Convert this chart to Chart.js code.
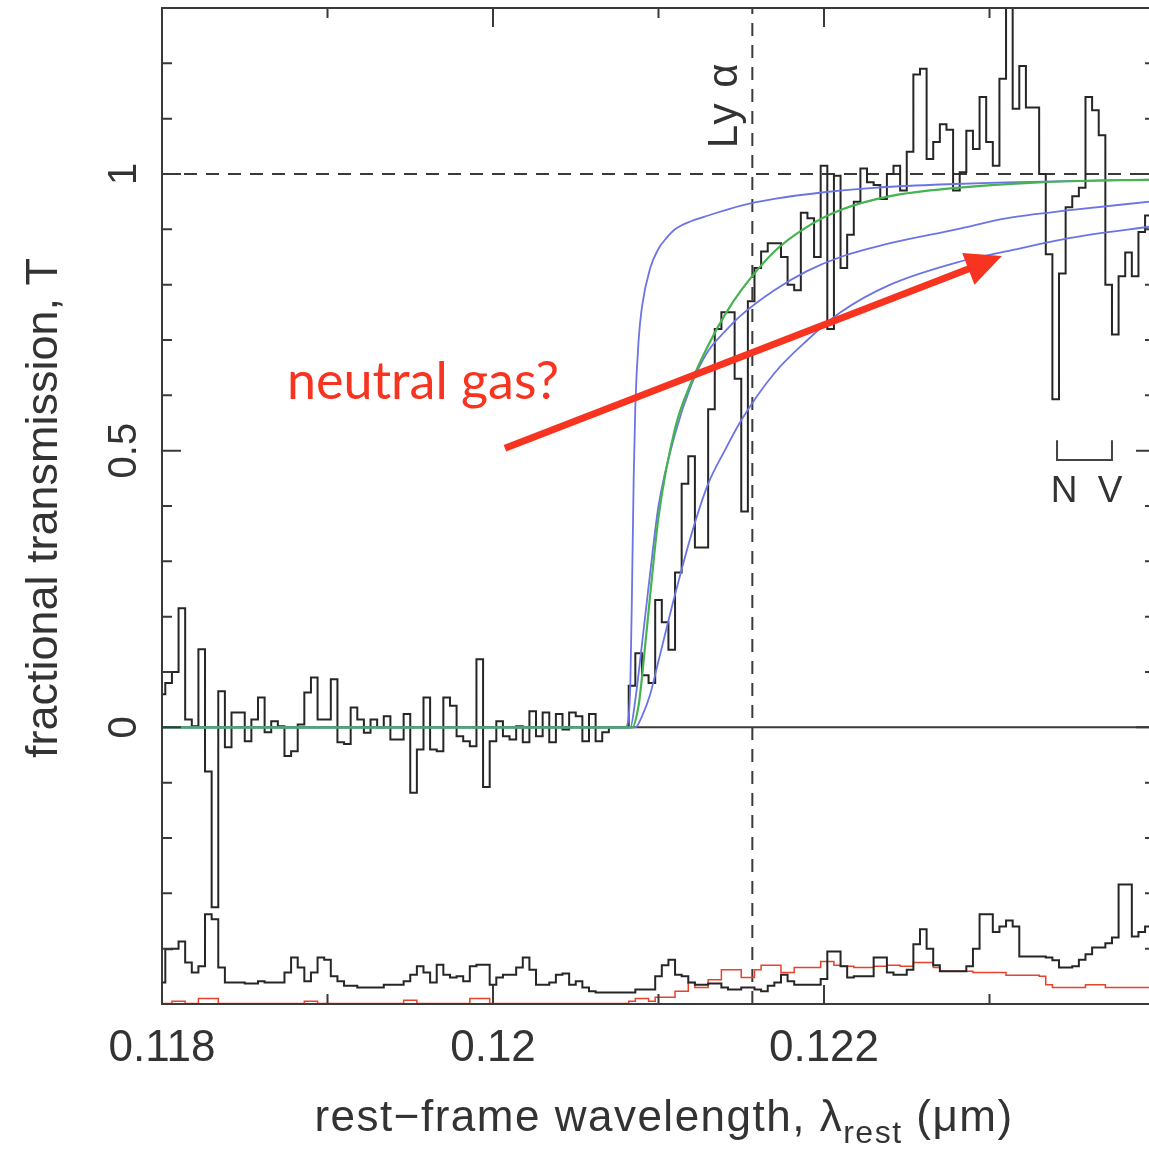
<!DOCTYPE html>
<html><head><meta charset="utf-8">
<script src="https://cdn.jsdelivr.net/npm/chart.js@4.4.0/dist/chart.umd.min.js"></script>
<style>
html,body{margin:0;padding:0;background:#fff;overflow:hidden;width:1149px;height:1150px}
#wrap{position:absolute;left:0;top:0;width:1165px;height:1150px}
</style></head><body><div id="wrap"><canvas id="c" width="1165" height="1150"></canvas></div>
<script>
// ---- spectrum grid (rest-frame wavelength, micron) ----
const binStart = 0.118;
const binWidth = 0.00004;
// fractional transmission per bin
const transmission = [0.06,0.08,0.10,0.215,0.014,0.002,0.141,-0.08,-0.325,0.065,
-0.036,0.027,0.027,-0.025,0.014,0.054,-0.009,0.011,0.002,-0.052,
-0.043,0.005,0.063,0.09,0.014,0.014,0.087,-0.027,-0.03,0.036,
0.014,-0.01,0.014,0.0,0.02,-0.022,-0.022,0.024,-0.118,-0.04,
0.054,-0.04,-0.043,0.054,0.039,-0.016,-0.025,-0.034,0.123,-0.108,
-0.025,0.011,-0.016,-0.022,0.002,-0.027,0.029,-0.016,0.027,-0.027,
0.024,-0.004,0.027,0.02,-0.025,0.024,-0.025,-0.009,0.0,0.0,
0.0,0.075,0.134,0.094,0.08,0.23,0.19,0.14,0.28,0.44,
0.49,0.325,0.325,0.575,0.72,0.75,0.75,0.63,0.39,0.77,
0.83,0.86,0.875,0.875,0.85,0.80,0.79,0.93,0.92,0.85,
1.015,0.72,0.997,0.83,0.89,0.95,1.01,0.985,0.98,0.955,
1.0,1.015,0.97,1.04,1.18,1.19,1.027,1.058,1.09,1.08,
0.97,1.003,1.078,1.045,1.139,1.058,1.015,1.172,1.35,1.118,
1.195,1.12,1.12,1.0,0.855,0.593,0.82,0.94,0.96,0.975,
1.139,1.115,1.07,0.80,0.71,0.815,0.858,0.815,0.895,0.925,
0.93];
// noise spectrum (black) plotted in the bottom strip, in T units
const noiseBlack = [-0.461,-0.401,-0.40,-0.387,-0.425,-0.443,-0.432,-0.338,-0.347,-0.434,
-0.461,-0.461,-0.461,-0.463,-0.463,-0.459,-0.461,-0.461,-0.461,-0.443,
-0.416,-0.434,-0.459,-0.443,-0.416,-0.42,-0.45,-0.459,-0.467,-0.467,
-0.47,-0.47,-0.47,-0.47,-0.465,-0.465,-0.465,-0.459,-0.447,-0.432,
-0.443,-0.461,-0.429,-0.447,-0.452,-0.45,-0.459,-0.432,-0.429,-0.429,
-0.465,-0.452,-0.447,-0.447,-0.434,-0.416,-0.438,-0.465,-0.465,-0.461,
-0.447,-0.445,-0.465,-0.459,-0.47,-0.477,-0.479,-0.479,-0.479,-0.479,
-0.479,-0.479,-0.474,-0.474,-0.474,-0.45,-0.43,-0.42,-0.447,-0.45,
-0.461,-0.465,-0.465,-0.463,-0.463,-0.47,-0.474,-0.474,-0.47,-0.47,
-0.474,-0.477,-0.467,-0.461,-0.447,-0.459,-0.465,-0.465,-0.465,-0.465,
-0.455,-0.405,-0.405,-0.432,-0.452,-0.45,-0.45,-0.45,-0.416,-0.416,
-0.443,-0.447,-0.447,-0.438,-0.392,-0.365,-0.40,-0.43,-0.441,-0.441,
-0.441,-0.441,-0.432,-0.40,-0.338,-0.338,-0.37,-0.36,-0.349,-0.36,
-0.414,-0.414,-0.414,-0.414,-0.416,-0.421,-0.434,-0.434,-0.432,-0.42,
-0.41,-0.398,-0.398,-0.39,-0.38,-0.284,-0.284,-0.378,-0.37,-0.36,
-0.36];
// second noise spectrum (red)
const noiseRed = [-0.499,-0.499,-0.495,-0.495,-0.499,-0.499,-0.49,-0.49,-0.49,-0.499,
-0.499,-0.499,-0.499,-0.499,-0.499,-0.499,-0.499,-0.499,-0.499,-0.499,
-0.499,-0.499,-0.495,-0.495,-0.499,-0.499,-0.499,-0.499,-0.499,-0.499,
-0.499,-0.499,-0.499,-0.499,-0.499,-0.499,-0.499,-0.493,-0.493,-0.499,
-0.499,-0.499,-0.499,-0.499,-0.499,-0.499,-0.499,-0.49,-0.49,-0.49,
-0.499,-0.499,-0.499,-0.499,-0.499,-0.499,-0.499,-0.499,-0.499,-0.499,
-0.499,-0.499,-0.499,-0.499,-0.499,-0.499,-0.499,-0.499,-0.499,-0.499,
-0.499,-0.495,-0.49,-0.49,-0.495,-0.488,-0.488,-0.488,-0.477,-0.477,
-0.461,-0.47,-0.47,-0.456,-0.456,-0.438,-0.438,-0.438,-0.452,-0.452,
-0.438,-0.43,-0.43,-0.43,-0.443,-0.443,-0.434,-0.434,-0.434,-0.434,
-0.423,-0.423,-0.43,-0.432,-0.432,-0.434,-0.434,-0.434,-0.432,-0.432,
-0.43,-0.43,-0.432,-0.432,-0.425,-0.425,-0.425,-0.434,-0.441,-0.441,
-0.441,-0.441,-0.441,-0.443,-0.443,-0.443,-0.443,-0.443,-0.448,-0.448,
-0.448,-0.448,-0.448,-0.45,-0.465,-0.47,-0.47,-0.47,-0.47,-0.47,
-0.465,-0.465,-0.465,-0.47,-0.47,-0.47,-0.47,-0.47,-0.47,-0.47,
-0.47];
// damping-wing model curves (read at sample wavelengths)
const blue1Wave = [0.118,0.1208,0.12082,0.12083,0.12084,0.12085,0.12086,0.12088,0.1209,0.12095,0.121,0.12105,0.1211,0.1212,0.1213,0.1215,0.1217,0.122,0.1223,0.1227,0.1231,0.124];
const blue1T    = [0,0,0.02,0.08,0.25,0.45,0.58,0.70,0.76,0.83,0.865,0.885,0.9,0.915,0.925,0.943,0.955,0.967,0.975,0.981,0.985,0.99];
const blue2Wave = [0.118,0.12083,0.12086,0.1209,0.12095,0.121,0.1211,0.1212,0.1213,0.1214,0.1215,0.1217,0.1219,0.1221,0.1224,0.1228,0.1231,0.1235,0.124];
const blue2T    = [0,0,0.05,0.15,0.28,0.4,0.53,0.62,0.68,0.715,0.745,0.79,0.825,0.85,0.875,0.9,0.92,0.935,0.951];
const blue3Wave = [0.118,0.12086,0.1209,0.12095,0.121,0.1211,0.1212,0.1213,0.1214,0.1215,0.1217,0.1219,0.1221,0.1224,0.1228,0.1231,0.1235,0.124];
const blue3T    = [0,0,0.02,0.06,0.12,0.24,0.35,0.44,0.5,0.555,0.64,0.7,0.75,0.8,0.84,0.86,0.885,0.906];
const greenWave = [0.118,0.12084,0.12088,0.1209,0.12095,0.121,0.1211,0.1212,0.1213,0.1214,0.1215,0.1217,0.1219,0.1221,0.1224,0.1228,0.1233,0.124];
const greenT    = [0,0,0.04,0.09,0.24,0.38,0.54,0.625,0.69,0.745,0.79,0.86,0.905,0.935,0.96,0.975,0.985,0.99];
// axis definitions / labels
const xMin = 0.118, xMax = 0.124, yMin = -0.5, yMax = 1.3;
const xLabelled = [0.118, 0.12, 0.122];
const yLabels = [[0,'0'],[0.5,'0.5'],[1,'1']];
const lyaWave = 0.121567;
const lyaLabelT = 1.125;
const unityT = 1;
// annotations
const noteText = 'neutral gas?';
const notePos = {x: 0.118755, y: 0.593};
const arrowFrom = {x: 0.120072, y: 0.5045};
const arrowTo = {x: 0.123075, y: 0.852};
const nvWaves = [0.123408, 0.12374];
const nvTop = 0.519, nvBottom = 0.483, nvTextT = 0.407;

const specPts = a => a.map((t,i)=>({x: binStart + i*binWidth, y: t}));
const curvePts = (w,t) => w.map((x,i)=>({x, y: t[i]}));

const FONT = "'Liberation Sans', Arial, sans-serif";
const INK = '#333';

const decor = {
  id: 'decor',
  afterDraw(chart) {
    const {ctx, chartArea: ca, scales: {x, y}} = chart;
    ctx.save();
    // frame
    ctx.strokeStyle = '#3a3a3a'; ctx.lineWidth = 2;
    ctx.strokeRect(ca.left, ca.top, ca.right - ca.left, ca.bottom - ca.top);
    // inward ticks
    for (let m = 118; m <= 124; m++) {
      const px = x.getPixelForValue(m/1000);
      const len = (m % 2 === 0) ? 19 : 10;
      ctx.beginPath();
      ctx.moveTo(px, ca.bottom); ctx.lineTo(px, ca.bottom - len);
      ctx.moveTo(px, ca.top); ctx.lineTo(px, ca.top + len);
      ctx.stroke();
    }
    for (let k = -5; k <= 13; k++) {
      const py = y.getPixelForValue(k/10);
      const len = (k % 5 === 0) ? 19 : 10;
      ctx.beginPath();
      ctx.moveTo(ca.left, py); ctx.lineTo(ca.left + len, py);
      ctx.moveTo(ca.right, py); ctx.lineTo(ca.right - len, py);
      ctx.stroke();
    }
    // y tick labels (rotated)
    ctx.fillStyle = INK;
    ctx.font = '40px ' + FONT;
    ctx.textAlign = 'center'; ctx.textBaseline = 'alphabetic';
    yLabels.forEach(([v, s]) => {
      ctx.save();
      ctx.translate(136, y.getPixelForValue(v));
      ctx.rotate(-Math.PI/2);
      ctx.fillText(s, 0, 0);
      ctx.restore();
    });
    // y title
    ctx.font = '45px ' + FONT;
    ctx.save();
    ctx.translate(57, (ca.top + ca.bottom)/2 + 2);
    ctx.rotate(-Math.PI/2);
    ctx.fillText('fractional transmission, T', 0, 0);
    ctx.restore();
    // x title with subscript
    ctx.save();
    try { ctx.letterSpacing = '1.5px'; } catch (e) {}
    const main = 'rest\u2212frame wavelength, \u03bb', sub = 'rest', tail = ' (\u03bcm)';
    ctx.font = '44px ' + FONT; const w1 = ctx.measureText(main).width; const w3 = ctx.measureText(tail).width;
    ctx.font = '32px ' + FONT; const w2 = ctx.measureText(sub).width;
    let sx = 664 - (w1 + w2 + w3)/2; const by = 1131;
    ctx.textAlign = 'left';
    ctx.font = '44px ' + FONT; ctx.fillText(main, sx, by); sx += w1;
    ctx.font = '32px ' + FONT; ctx.fillText(sub, sx, by + 12); sx += w2;
    ctx.font = '44px ' + FONT; ctx.fillText(tail, sx, by);
    ctx.restore();
    // Ly alpha label
    ctx.save();
    try { ctx.letterSpacing = '2px'; } catch (e) {}
    ctx.font = '42px ' + FONT; ctx.textAlign = 'center';
    ctx.translate(x.getPixelForValue(lyaWave) - 15, y.getPixelForValue(lyaLabelT));
    ctx.rotate(-Math.PI/2);
    ctx.fillText('Ly \u03b1', 0, 0);
    ctx.restore();
    // N V bracket
    const n1 = x.getPixelForValue(nvWaves[0]), n2 = x.getPixelForValue(nvWaves[1]);
    const t1 = y.getPixelForValue(nvTop), t2 = y.getPixelForValue(nvBottom);
    ctx.strokeStyle = '#444'; ctx.lineWidth = 2;
    ctx.beginPath(); ctx.moveTo(n1, t1); ctx.lineTo(n1, t2); ctx.lineTo(n2, t2); ctx.lineTo(n2, t1); ctx.stroke();
    ctx.font = '37px ' + FONT; ctx.textAlign = 'center';
    ctx.fillText('N', n1 + 7, y.getPixelForValue(nvTextT));
    ctx.fillText('V', n2 - 2, y.getPixelForValue(nvTextT));
    // annotation arrow
    const ax0 = x.getPixelForValue(arrowFrom.x), ay0 = y.getPixelForValue(arrowFrom.y);
    const ax1 = x.getPixelForValue(arrowTo.x), ay1 = y.getPixelForValue(arrowTo.y);
    const ang = Math.atan2(ay1 - ay0, ax1 - ax0);
    const hl = 36, hw = 17;
    const bx = ax1 - hl*Math.cos(ang), byy = ay1 - hl*Math.sin(ang);
    ctx.strokeStyle = '#f8331f'; ctx.fillStyle = '#f8331f'; ctx.lineWidth = 7; ctx.lineCap = 'butt';
    ctx.beginPath(); ctx.moveTo(ax0, ay0); ctx.lineTo(bx + 2*Math.cos(ang), byy + 2*Math.sin(ang)); ctx.stroke();
    ctx.beginPath();
    ctx.moveTo(ax1, ay1);
    ctx.lineTo(bx - hw*Math.sin(ang), byy + hw*Math.cos(ang));
    ctx.lineTo(bx + hw*Math.sin(ang), byy - hw*Math.cos(ang));
    ctx.closePath(); ctx.fill();
    // note text
    ctx.font = "52px Lato, 'Open Sans', sans-serif"; ctx.textAlign = 'left';
    ctx.fillText(noteText, x.getPixelForValue(notePos.x), y.getPixelForValue(notePos.y));
    ctx.restore();
  }
};

const base = {pointRadius: 0, pointHoverRadius: 0, fill: false, tension: 0};
new Chart(document.getElementById('c'), {
  type: 'line',
  data: {
    datasets: [
      {...base, label: 'model green', data: curvePts(greenWave, greenT), borderColor: '#45b34f', borderWidth: 2.2, cubicInterpolationMode: 'monotone', order: 1},
      {...base, label: 'model blue 1', data: curvePts(blue1Wave, blue1T), borderColor: '#6b74e4', borderWidth: 1.8, cubicInterpolationMode: 'monotone', order: 2},
      {...base, label: 'model blue 2', data: curvePts(blue2Wave, blue2T), borderColor: '#6b74e4', borderWidth: 1.8, cubicInterpolationMode: 'monotone', order: 2},
      {...base, label: 'model blue 3', data: curvePts(blue3Wave, blue3T), borderColor: '#6b74e4', borderWidth: 1.8, cubicInterpolationMode: 'monotone', order: 2},
      {...base, label: 'transmission', data: specPts(transmission), borderColor: '#262626', borderWidth: 2, stepped: 'middle', order: 3},
      {...base, label: 'noise', data: specPts(noiseBlack), borderColor: '#262626', borderWidth: 2, stepped: 'middle', order: 4},
      {...base, label: 'noise 2', data: specPts(noiseRed), borderColor: '#e8412c', borderWidth: 1.5, stepped: 'middle', order: 5},
      {...base, label: 'zero', data: [{x: xMin, y: 0}, {x: xMax, y: 0}], borderColor: '#3a3a3a', borderWidth: 2, order: 6},
      {...base, label: 'unity', data: [{x: xMin, y: unityT}, {x: xMax, y: unityT}], borderColor: '#3a3a3a', borderWidth: 2, borderDash: [13, 9], order: 7},
      {...base, label: 'Ly alpha', data: [{x: lyaWave, y: yMin}, {x: lyaWave, y: yMax}], borderColor: '#3a3a3a', borderWidth: 2, borderDash: [13, 9], order: 7}
    ]
  },
  options: {
    responsive: false, animation: false, devicePixelRatio: 1,
    layout: {padding: {left: 0, right: 10, top: 8, bottom: 0}},
    plugins: {legend: {display: false}, tooltip: {enabled: false}, title: {display: false}},
    scales: {
      x: {type: 'linear', min: xMin, max: xMax, border: {display: false},
          grid: {display: false, drawTicks: false},
          ticks: {stepSize: 0.001, autoSkip: false, maxRotation: 0, minRotation: 0, padding: 18, color: INK,
                  font: {family: FONT, size: 44},
                  callback: v => { const m = Math.round(v*1000); return xLabelled.some(l => Math.round(l*1000) === m) ? String(m/1000) : ''; }},
          afterFit: s => { s.height = 146; s.paddingLeft = 0; s.paddingRight = 0; }},
      y: {type: 'linear', min: yMin, max: yMax, border: {display: false},
          grid: {display: false, drawTicks: false}, ticks: {display: false},
          afterFit: s => { s.width = 162; }}
    }
  },
  plugins: [decor]
});
</script></body></html>
